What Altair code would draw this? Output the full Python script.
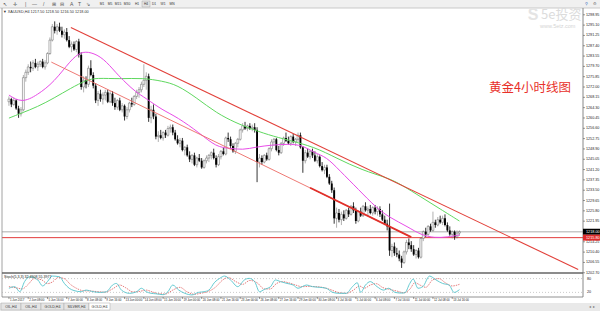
import altair as alt
import pandas as pd

# ---------------- data ----------------
OPEN = [1266.5,1267.5,1265.5,1267,1264,1262,1263.5,1275.5,1277.5,1279.5,1279,1281,
        1279.5,1280.5,1281.5,1279.5,1281,1284.5,1289.5,1294.5,1293,1294.5,1293,1291.5,
        1292.5,1289.5,1287,1288,1286,1289,1284,1272,1274.5,1273,1279,1276.5,
        1272.5,1267,1269.5,1267.5,1269,1270,1266.5,1269.5,1266,1264.5,1267,1263.5,
        1265,1261,1263.5,1266,1265.5,1268.5,1270,1271,1273,1274.5,1276,1260.5,
        1263.5,1261,1253.5,1254,1253,1255,1254,1256.5,1257,1255,1252.5,1251,
        1252,1248.5,1249.5,1246.5,1245,1246.5,1243,1245.5,1244.5,1242,1244.5,1245.5,
        1246.5,1247.5,1245.5,1243,1246,1248,1247,1253,1252.5,1250,1248,1251,
        1252.5,1256,1257.5,1256.5,1257.5,1256.5,1257,1256,1244,1245.5,1244,1246.5,
        1245,1249,1251.5,1252.5,1248.5,1247.5,1251,1253,1252,1251,1253.5,1251.5,
        1252.5,1254,1249.5,1244.5,1247.5,1246,1248,1246.5,1244.5,1246,1242.5,1241,
        1242,1238.5,1236,1233.5,1223,1225,1222.5,1224.5,1223,1226,1224.5,1227.5,
        1226,1222,1225.5,1224,1227.5,1226,1226.5,1225,1227,1225.5,1226.5,1224.5,
        1222.5,1221,1220,1211,1212.5,1210,1209.5,1208,1206.5,1210.5,1214,1213,
        1211.5,1209.5,1211,1208.5,1215.5,1218,1217,1220,1218.5,1221.5,1220.5,1222.5,
        1221.5,1223,1220.5,1218.5,1217,1218,1216,1217.5]
HIGH = [1268.5,1268,1268,1267.5,1265,1264.5,1276.5,1278.5,1280.5,1281.5,1282,1282.5,
        1281.5,1282,1282.5,1282,1285,1290.5,1295.5,1296.5,1295.5,1296,1294.5,1293.5,
        1294,1291,1289,1289,1289.5,1290,1285,1276,1276,1280,1282,1277.5,
        1273.5,1270.5,1271,1270,1271,1271,1270.5,1270.5,1268,1267.5,1268,1266,
        1265.5,1264.5,1266.5,1268,1269,1271,1272,1274,1280.5,1277.5,1277,1265,
        1265.5,1262,1255.5,1256,1255.5,1256,1257.5,1258,1258,1256,1254,1253,
        1253,1250,1250.5,1248,1247,1247.5,1246,1247,1245.5,1245,1246.5,1247,
        1248,1249,1246.5,1247,1248.5,1249.5,1253.5,1255,1253.5,1251,1251.5,1253,
        1256.5,1258.5,1259,1258,1258.5,1258,1258.5,1257,1247,1246.5,1247,1247.5,
        1249.5,1252.5,1253,1253,1250,1251.5,1253.5,1255,1253.5,1254,1254.5,1253,
        1255,1255,1250,1248.5,1249,1248.5,1249,1248,1247,1246.5,1244,1243,
        1243,1239.5,1237,1234.5,1227,1226.5,1225.5,1226,1226.5,1227,1228,1229,
        1227,1226,1227,1228,1229,1227.5,1228,1227.5,1228,1227.5,1227.5,1226,
        1224,1222.5,1228.5,1213.5,1214,1212,1211,1209,1211,1215,1215.5,1214.5,
        1213,1211.5,1212,1216,1218.5,1219.5,1220.5,1221,1225.5,1222.5,1223.5,1224,
        1224,1224.5,1221.5,1220,1218.5,1218.5,1218.5,1218.5]
LOW = [1265,1264.5,1265,1263.5,1260.5,1261,1263,1274,1276.5,1277.5,1278,1279,
       1278,1279.5,1279,1278.5,1280.5,1284,1289,1292,1291.5,1292.5,1290.5,1290,
       1289,1286.5,1285,1285.5,1285,1283,1271,1270,1271.5,1272,1276,1271.5,
       1266,1265,1266.5,1265.5,1267,1266,1266,1265,1263.5,1263.5,1263,1262.5,
       1259.5,1260,1262.5,1264.5,1265,1267.5,1268,1270,1272,1271,1259,1258.5,
       1260,1252.5,1251.5,1252.5,1252,1253,1253.5,1255,1254,1252,1250.5,1249.5,
       1248,1246.5,1246,1244,1243.5,1242.5,1242,1244,1241.5,1241.5,1243.5,1244,
       1245,1245,1242,1242.5,1245,1246.5,1246.5,1251.5,1249,1247.5,1247,1249.5,
       1252,1255,1256,1255.5,1256,1255.5,1255,1236.5,1242,1243,1243.5,1244.5,
       1244.5,1248,1250,1248,1246.5,1247,1250,1251.5,1250.5,1250,1251,1250,
       1251.5,1249,1240,1243.5,1245.5,1245,1245.5,1244,1243.5,1242,1240.5,1239.5,
       1238,1235.5,1232.5,1221,1219.5,1221.5,1220.5,1222,1222.5,1223.5,1224,1225,
       1221,1221.5,1223.5,1223.5,1225.5,1224,1224.5,1224,1224.5,1224,1223.5,1222,
       1220.5,1218.5,1209,1208.5,1209,1208.5,1207,1204.5,1206,1209.5,1211.5,1210.5,
       1209,1208,1208,1208,1214.5,1216,1216.5,1218,1218,1219.5,1220,1221,
       1220.5,1220,1218,1216.5,1215.5,1215,1215.5,1216.5]
CLOSE = [1267.5,1265.5,1267,1264,1262,1263.5,1275.5,1277.5,1279.5,1279,1281,1279.5,
         1280.5,1281.5,1279.5,1281,1284.5,1289.5,1294.5,1293,1294.5,1293,1291.5,1292.5,
         1289.5,1287,1288,1286,1289,1284,1272,1274.5,1273,1279,1276.5,1272.5,
         1267,1269.5,1267.5,1269,1270,1266.5,1269.5,1266,1264.5,1267,1263.5,1265,
         1261,1263.5,1266,1265.5,1268.5,1270,1271,1273,1274.5,1276,1260.5,1263.5,
         1261,1253.5,1254,1253,1255,1254,1256.5,1257,1255,1252.5,1251,1252,
         1248.5,1249.5,1246.5,1245,1246.5,1243,1245.5,1244.5,1242,1244.5,1245.5,1246.5,
         1247.5,1245.5,1243,1246,1248,1247,1253,1252.5,1250,1248,1251,1252.5,
         1256,1257.5,1256.5,1257.5,1256.5,1257,1256,1244,1245.5,1244,1246.5,1245,
         1249,1251.5,1252.5,1248.5,1247.5,1251,1253,1252,1251,1253.5,1251.5,1252.5,
         1254,1249.5,1244.5,1247.5,1246,1248,1246.5,1244.5,1246,1242.5,1241,1242,
         1238.5,1236,1233.5,1223,1225,1222.5,1224.5,1223,1226,1224.5,1227.5,1226,
         1222,1225.5,1224,1227.5,1226,1226.5,1225,1227,1225.5,1226.5,1224.5,1222.5,
         1221,1220,1211,1212.5,1210,1209.5,1208,1206.5,1210.5,1214,1213,1211.5,
         1209.5,1211,1208.5,1215.5,1218,1217,1220,1218.5,1221.5,1220.5,1222.5,1221.5,
         1223,1220.5,1218.5,1217,1218,1216,1217.5,1218]

MA_FAST_I = [0, 5.3, 11.8, 18.8, 25.7, 29.8, 33.9, 39.2, 44.5, 48.6, 52.7, 56.7, 63.7, 69.8,
             79.2, 86.1, 91.4, 97.1, 102.4, 109.4, 115.9, 121.6, 126.9, 131.8, 137.1, 145.3,
             152.2, 157.6, 165.7, 171.0, 176.7, 182.0, 187]
MA_FAST_V = [1269.0, 1266.0, 1269.0, 1273.9, 1282.1, 1285.1, 1285.1, 1282.8, 1277.2, 1273.5,
             1270.1, 1267.9, 1263.4, 1260.8, 1254.8, 1249.6, 1249.2, 1248.5, 1249.6, 1250.4,
             1250.7, 1250.4, 1247.4, 1245.9, 1241.0, 1233.6, 1227.2, 1223.5, 1219.8, 1216.8,
             1215.7, 1216.0, 1216.8]
MA_SLOW_I = [0, 5.3, 11.8, 18.8, 25.7, 32.2, 36.3, 46.1, 55.5, 63.7, 69.8, 78.0, 86.1, 94.3,
             99.6, 107.8, 115.9, 126.9, 135.9, 146.5, 157.6, 163, 171, 179, 187]
MA_SLOW_V = [1260.4, 1262.3, 1264.6, 1267.9, 1271.6, 1274.6, 1275.4, 1275.0, 1275.4, 1274.2,
             1272.8, 1267.9, 1262.3, 1258.6, 1256.7, 1254.1, 1252.2, 1249.6, 1245.5, 1241.0,
             1238.0, 1235.5, 1231.0, 1226.5, 1222.0]

STO_I = [0,2.4,4.5,6.5,8.6,12,14,16,18,21,23,25,27,30,32,35,38,40.5,43,44.6,46.7,50,53,55,57,59,
         61,64,66,68,70.5,73,76,78.6,81,83,85.4,87.5,89.5,92,95,97.7,99.7,102,104,106,108.6,
         110.6,112.7,115.4,118,120,123.5,126,129,131.7,134.4,137,140,142.6,144.6,146,148,150,
         152.8,155.5,157.6,160.3,163,164.4,166.4,167.8,169.8,171.8,174.6,177.3,180,182.7,184.8,187]
STO_V = [38,45,23,67,88,74,48,67,91,88,59,38,28,23,30,23,20,23,52,59,30,16,23,38,23,16,
         14,10,23,52,30,16,9,20,23,30,64,81,91,74,45,74,81,67,23,33,45,
         74,67,59,52,38,52,45,42,38,20,16,16,45,62,20,52,67,
         45,30,38,20,17,19,59,78,38,45,91,74,59,52,20,32]
SIG_I = [0,3,5.5,8,10.5,13.5,16,18,20.5,23,25.5,28,31,34,37,40,43,46,48.5,51.5,54.5,57,59.5,
         62,65,68,71,74,77,80,83,86,88.5,91,94,97,100,103,106,108.5,111,113.5,116,119,121.5,
         124.5,127.5,131,134,137,140,143,145.5,147.5,150,152.5,155,158,161,164,166.5,168.5,
         171,173,176,178.5,181,184,187]
SIG_V = [45,40,35,55,80,75,58,65,85,80,55,38,27,26,23,21,35,52,40,22,25,30,22,
         15,13,30,42,22,12,17,25,45,72,85,68,55,72,62,35,35,58,67,62,52,45,
         46,45,40,30,19,16,30,48,38,52,58,42,33,26,18,35,62,
         50,42,75,80,63,48,55]

TREND_UP_I = [25.7, 236.3]
TREND_UP_P = [1294.2, 1203.9]
TREND_LO_I = [17.6, 167]
TREND_LO_P = [1281.3, 1216.0]
TREND_LO_BOLD_I = [125, 167]
TREND_LO_BOLD_P = [1234.4, 1216.0]
BID = [1218.0]
HLINE = [1215.8]

PRICE_TICKS = [1298.95, 1295.10, 1291.25, 1287.40, 1283.55, 1279.70, 1275.85, 1272.00, 1268.15,
               1264.30, 1260.45, 1256.60, 1252.75, 1248.90, 1245.05, 1241.20, 1237.35, 1233.50,
               1229.65, 1225.80, 1221.95, 1214.25, 1210.40, 1206.55, 1202.70]
TIME_IDX = [0, 8, 16, 24, 32, 40, 48, 56, 64, 72, 80, 88, 96, 104, 112, 120, 128, 136, 144,
            152, 160, 168, 176, 184]
TIME_LABELS = ["1 Jun 2017", "2 Jun 08:00", "5 Jun 16:00", "7 Jun 00:00", "8 Jun 08:00",
               "9 Jun 16:00", "13 Jun 00:00", "14 Jun 08:00", "15 Jun 16:00", "19 Jun 00:00",
               "20 Jun 08:00", "21 Jun 16:00", "23 Jun 00:00", "26 Jun 08:00", "27 Jun 16:00",
               "29 Jun 00:00", "30 Jun 08:00", "3 Jul 16:00", "5 Jul 00:00", "6 Jul 08:00",
               "7 Jul 16:00", "11 Jul 00:00", "12 Jul 08:00", "13 Jul 16:00"]
STO_LEVELS = [80, 20]
TABS = ["OIL,H4", "OIL,H4", "GOLD,H4", "SILVER,H4", "GOLD,H4"]

# ---------------- scales ----------------
W, H = 600, 311
XS = alt.Scale(domain=[-1.633, 243.27], nice=False, zero=False)
YP = alt.Scale(domain=[1188.43, 1304.47], nice=False, zero=False)
YS = alt.Scale(domain=[-60.87, 1291.3], nice=False, zero=False)
FONT = "Liberation Sans"


def X(f="i"):
    return alt.X(f + ":Q", scale=XS, axis=None)


def YPr(f="p"):
    return alt.Y(f + ":Q", scale=YP, axis=None)


def YSt(f="v"):
    return alt.Y(f + ":Q", scale=YS, axis=None)


ONE = pd.DataFrame({"a": [0]})


def deco_rule(x, x2, y, y2, color, w=1.0, dash=None):
    kw = dict(color=color, strokeWidth=w)
    if dash:
        kw["strokeDash"] = dash
    return alt.Chart(ONE).mark_rule(**kw).encode(
        x=alt.value(x), x2=alt.value(x2), y=alt.value(y), y2=alt.value(y2))


def deco_rect(x, x2, y, y2, fill, stroke=None, sw=0.5):
    kw = dict(fill=fill)
    if stroke:
        kw.update(stroke=stroke, strokeWidth=sw)
    return alt.Chart(ONE).mark_rect(**kw).encode(
        x=alt.value(x), x2=alt.value(x2), y=alt.value(y), y2=alt.value(y2))


def deco_text(txt, x, y, size, color="#222", align="left", font=FONT, weight="normal"):
    return alt.Chart(ONE).mark_text(
        text=txt, fontSize=size, color=color, align=align, baseline="middle",
        font=font, fontWeight=weight).encode(x=alt.value(x), y=alt.value(y))


cdf = pd.DataFrame({"i": list(range(len(CLOSE))), "o": OPEN, "h": HIGH, "l": LOW, "c": CLOSE})
bull = cdf[cdf["c"] >= cdf["o"]]
bear = cdf[cdf["c"] < cdf["o"]]

layers = []

# chrome: toolbar, tabs
layers.append(deco_rect(0, 600, 0, 8, "#f0f0f0"))
layers.append(deco_rule(0, 600, 8, 8, "#bdbdbd", 0.8))
tool_icons = ["↖", "✛", "|", "—", "/", "⊞", "⊟", "A", "T", "⇘"]
tool_x = [3, 13, 25, 32, 43, 52, 60, 70, 78, 86]
for t, xx in zip(tool_icons, tool_x):
    layers.append(deco_text(t, xx, 4, 5, "#555"))
periods = ["M1", "M5", "M15", "M30", "H1", "H4", "D1", "W1", "MN"]
per_x = [102, 110, 118, 127, 137, 146, 154, 163, 172]
for t, xx in zip(periods, per_x):
    if t == "H4":
        layers.append(deco_rect(xx - 4, xx + 4, 1, 7, "#e4e4e4", "#9a9a9a", 0.4))
    layers.append(deco_text(t, xx, 4, 3.3, "#333", align="center"))
layers.append(deco_text("⚲", 586, 3.5, 3.5, "#3a70c0", align="center"))
layers.append(deco_text("⚙", 595, 3.5, 3.5, "#777", align="center"))

layers.append(deco_rect(0, 600, 303, 311, "#e9e9e9"))
tab_x = [1, 21, 41, 64, 89]
tab_w = [20, 20, 23, 25, 21]
for k, (t, xx, ww) in enumerate(zip(TABS, tab_x, tab_w)):
    fill = "white" if k == len(TABS) - 1 else "#e4e4e4"
    layers.append(deco_rect(xx, xx + ww, 303, 310, fill, "#a8a8a8", 0.5))
    layers.append(deco_text(t, xx + ww / 2, 306.7, 3.6, "#333", align="center"))
layers.append(deco_text("◂  ▸", 592, 307, 4, "#777", align="center"))

# watermark
layers.append(deco_text("S", 533, 15, 16, "#e4e4e4", align="center", weight="bold"))
layers.append(deco_text("5e投资", 541, 15, 13, "#dcdcdc", font="Noto Sans CJK SC"))
layers.append(deco_text("www.5etz.com", 540, 26, 5.5, "#d4d4d4"))

# horizontal lines
layers.append(alt.Chart(pd.DataFrame({"p": BID})).mark_rule(color="#c8c8c8", strokeWidth=1.6).encode(
    y=YPr(), x=alt.value(2), x2=alt.value(583)))
layers.append(alt.Chart(pd.DataFrame({"p": HLINE})).mark_rule(color="#e23b3b", strokeWidth=1).encode(
    y=YPr(), x=alt.value(2), x2=alt.value(583)))

# candles
layers.append(alt.Chart(bull).mark_rule(color="#7a7a7a", strokeWidth=0.6).encode(
    x=X(), y=YPr("l"), y2=alt.Y2("h:Q")))
layers.append(alt.Chart(bear).mark_rule(color="#000", strokeWidth=0.8).encode(
    x=X(), y=YPr("l"), y2=alt.Y2("h:Q")))
layers.append(alt.Chart(bull).mark_bar(size=1.9, fill="white", stroke="#555", strokeWidth=0.45).encode(
    x=X(), y=YPr("o"), y2=alt.Y2("c:Q")))
layers.append(alt.Chart(bear).mark_bar(size=1.9, color="#000").encode(
    x=X(), y=YPr("o"), y2=alt.Y2("c:Q")))

# moving averages
layers.append(alt.Chart(pd.DataFrame({"i": MA_SLOW_I, "p": MA_SLOW_V})).mark_line(
    color="#5fd85f", strokeWidth=1, interpolate="basis").encode(x=X(), y=YPr()))
layers.append(alt.Chart(pd.DataFrame({"i": MA_FAST_I, "p": MA_FAST_V})).mark_line(
    color="#e84ce8", strokeWidth=1, interpolate="basis").encode(x=X(), y=YPr()))

# trend lines
layers.append(alt.Chart(pd.DataFrame({"i": TREND_UP_I, "p": TREND_UP_P})).mark_line(
    color="#e2403a", strokeWidth=1.1).encode(x=X(), y=YPr()))
layers.append(alt.Chart(pd.DataFrame({"i": TREND_LO_I, "p": TREND_LO_P})).mark_line(
    color="#ec6a64", strokeWidth=0.9).encode(x=X(), y=YPr()))
layers.append(alt.Chart(pd.DataFrame({"i": TREND_LO_BOLD_I, "p": TREND_LO_BOLD_P})).mark_line(
    color="#e0302a", strokeWidth=1.8).encode(x=X(), y=YPr()))

# panes / borders
layers.append(deco_rule(2, 2, 8, 297, "#8a8a8a", 0.8))
layers.append(deco_rule(583, 583, 8, 297, "#6a6a6a", 0.8))
layers.append(deco_rule(2, 583, 273, 273, "#666", 1.4))
layers.append(deco_rule(2, 583, 297, 297, "#777", 0.8))

# header
layers.append(deco_text("▼ XAUUSD,H4  1217.50 1218.50 1216.50 1218.00", 3, 12, 3.8, "#333"))

# price axis
pt = pd.DataFrame({"p": PRICE_TICKS, "lab": [f"{v:.2f}" for v in PRICE_TICKS]})
layers.append(alt.Chart(pt).mark_rule(color="#555", strokeWidth=0.6).encode(
    y=YPr(), x=alt.value(583), x2=alt.value(585)))
layers.append(alt.Chart(pt).mark_text(fontSize=3.7, color="#222", align="left", baseline="middle",
                                      font=FONT).encode(y=YPr(), x=alt.value(586), text="lab:N"))
bid = pd.DataFrame({"p": BID, "lab": [f"{v:.2f}" for v in BID]})
layers.append(alt.Chart(bid).mark_rule(color="#000", strokeWidth=6).encode(
    y=YPr(), x=alt.value(583), x2=alt.value(600)))
layers.append(alt.Chart(bid).mark_text(fontSize=3.8, color="white", align="left", baseline="middle",
                                       font=FONT).encode(y=YPr(), x=alt.value(586), text="lab:N"))
hl = pd.DataFrame({"p": HLINE, "lab": [f"{v:.2f}" for v in HLINE]})
layers.append(alt.Chart(hl).mark_rule(color="#e02b2b", strokeWidth=6).encode(
    y=YPr(), x=alt.value(583), x2=alt.value(600)))
layers.append(alt.Chart(hl).mark_text(fontSize=3.8, color="white", align="left", baseline="middle",
                                      font=FONT).encode(y=YPr(), x=alt.value(586), text="lab:N"))

# title text
layers.append(deco_text("黄金4小时线图", 489, 88, 12.5, "#e8302a", font="Noto Sans CJK SC"))

# stochastic pane
lv = pd.DataFrame({"v": STO_LEVELS, "lab": [str(v) for v in STO_LEVELS]})
layers.append(alt.Chart(lv).mark_rule(color="#a8a8a8", strokeWidth=0.6, strokeDash=[1, 2]).encode(
    y=YSt(), x=alt.value(2), x2=alt.value(583)))
layers.append(alt.Chart(lv).mark_text(fontSize=3.7, color="#222", align="left", baseline="middle",
                                      font=FONT).encode(y=YSt(), x=alt.value(587), text="lab:N"))
layers.append(alt.Chart(pd.DataFrame({"i": SIG_I, "v": SIG_V})).mark_line(
    color="#e05a5a", strokeWidth=0.8, strokeDash=[1.5, 1], interpolate="monotone").encode(x=X(), y=YSt()))
layers.append(alt.Chart(pd.DataFrame({"i": STO_I, "v": STO_V})).mark_line(
    color="#55c4cc", strokeWidth=0.9, interpolate="monotone").encode(x=X(), y=YSt()))
layers.append(deco_text("Stoch(5,3,3) 32.4908 55.3977", 4, 276.5, 3.6, "#222"))

# time axis
tl = pd.DataFrame({"i": TIME_IDX, "lab": TIME_LABELS})
layers.append(alt.Chart(tl).mark_rule(color="#555", strokeWidth=0.6).encode(
    x=X(), y=alt.value(297), y2=alt.value(299)))
layers.append(alt.Chart(tl).mark_text(fontSize=2.9, color="#222", align="left", baseline="middle",
                                      dx=1, font=FONT).encode(x=X(), y=alt.value(300), text="lab:N"))

chart = alt.layer(*layers).resolve_scale(y="independent").properties(
    width=W, height=H, padding=0, autosize=alt.AutoSizeParams(type="none"),
    background="white").configure_view(stroke=None)

chart.save("out.html", embed_options={"renderer": "svg", "actions": False})
